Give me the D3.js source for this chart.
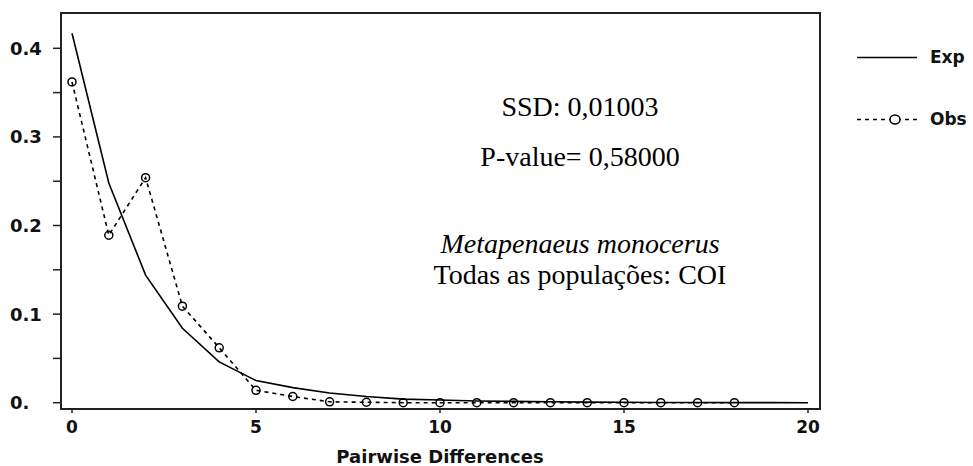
<!DOCTYPE html>
<html>
<head>
<meta charset="utf-8">
<script src="https://cdn.jsdelivr.net/npm/d3@7"></script>
<style>
  body { margin: 0; background: #fff; }
  svg { display: block; }
  .lab { font-family: "DejaVu Sans", sans-serif; font-weight: bold; fill: #111; }
  .note { font-family: "Liberation Serif", "Times New Roman", serif; fill: #000; }
</style>
</head>
<body>
<svg id="chart"></svg>
<script>

// DATA

const diffs = d3.range(0, 21);

const expValues = [
  0.417, 0.248, 0.144, 0.084, 0.046, 0.025, 0.017, 0.011, 0.007, 0.004,
  0.003, 0.002, 0.0015, 0.001, 0.0007, 0.0005, 0.0003, 0.0002, 0.0001, 0.0001, 0
];

const obsDiffs = d3.range(0, 19);
const obsValues = [
  0.362, 0.189, 0.254, 0.109, 0.062, 0.014, 0.007, 0.001, 0.0005, 0,
  0, 0, 0, 0, 0, 0, 0, 0, 0
];

const yTicks = [0, 0.1, 0.2, 0.3, 0.4];
const yTickLabels = ["0.", "0.1", "0.2", "0.3", "0.4"];
const yMinorTicks = [0.05, 0.15, 0.25, 0.35];
const xTicks = [0, 5, 10, 15, 20];

const notes = [
  { text: "SSD: 0,01003", italic: false },
  { text: "P-value= 0,58000", italic: false },
  { text: "Metapenaeus monocerus", italic: true },
  { text: "Todas as populações: COI", italic: false }
];
const noteBaselines = [116, 166, 253, 284];

// SETUP

const width = 973;
const height = 466;

const svg = d3.select("#chart")
  .attr("width", width)
  .attr("height", height);

const frame = { left: 61, top: 13, right: 820, bottom: 409 };

const x = d3.scaleLinear()
  .domain([0, 20])
  .range([72, 808]);

const y = d3.scaleLinear()
  .domain([0, 0.4])
  .range([402.7, 48.3]);

// FRAME

svg.append("rect")
  .attr("x", frame.left)
  .attr("y", frame.top)
  .attr("width", frame.right - frame.left)
  .attr("height", frame.bottom - frame.top)
  .attr("fill", "none")
  .attr("stroke", "#222")
  .attr("stroke-width", 2);

// Y AXIS

svg.append("g")
  .selectAll("line")
  .data(yTicks.concat(yMinorTicks))
  .enter()
  .append("line")
  .attr("x1", frame.left - 8)
  .attr("x2", frame.left)
  .attr("y1", d => y(d))
  .attr("y2", d => y(d))
  .attr("stroke", "#222")
  .attr("stroke-width", 1.5);

svg.append("g")
  .selectAll("text")
  .data(yTicks)
  .enter()
  .append("text")
  .attr("class", "lab")
  .attr("x", 10)
  .attr("y", d => y(d))
  .attr("dy", "0.36em")
  .attr("font-size", "18px")
  .text((d, i) => yTickLabels[i]);

// X AXIS

svg.append("g")
  .selectAll("line")
  .data(xTicks)
  .enter()
  .append("line")
  .attr("x1", d => x(d))
  .attr("x2", d => x(d))
  .attr("y1", frame.bottom)
  .attr("y2", frame.bottom + 4)
  .attr("stroke", "#222")
  .attr("stroke-width", 1.5);

svg.append("g")
  .selectAll("text")
  .data(xTicks)
  .enter()
  .append("text")
  .attr("class", "lab")
  .attr("x", d => x(d))
  .attr("y", 433)
  .attr("text-anchor", "middle")
  .attr("font-size", "17px")
  .text(d => d);

svg.append("text")
  .attr("class", "lab")
  .attr("x", 440)
  .attr("y", 463)
  .attr("text-anchor", "middle")
  .attr("font-size", "18px")
  .text("Pairwise Differences");

// LINES

const line = d3.line()
  .x(d => x(d[0]))
  .y(d => y(d[1]));

svg.append("path")
  .datum(obsDiffs.map((d, i) => [d, obsValues[i]]))
  .attr("d", line)
  .attr("fill", "none")
  .attr("stroke", "#000")
  .attr("stroke-width", 1.6)
  .attr("stroke-dasharray", "4,4");

svg.append("g")
  .selectAll("circle")
  .data(obsDiffs)
  .enter()
  .append("circle")
  .attr("cx", d => x(d))
  .attr("cy", (d, i) => y(obsValues[i]))
  .attr("r", 4)
  .attr("fill", "none")
  .attr("stroke", "#000")
  .attr("stroke-width", 1.5);

svg.append("path")
  .datum(diffs.map((d, i) => [d, expValues[i]]))
  .attr("d", line)
  .attr("fill", "none")
  .attr("stroke", "#000")
  .attr("stroke-width", 1.6);

// LEGEND

svg.append("line")
  .attr("x1", 857).attr("x2", 917)
  .attr("y1", 57.5).attr("y2", 57.5)
  .attr("stroke", "#000")
  .attr("stroke-width", 1.6);

svg.append("text")
  .attr("class", "lab")
  .attr("x", 930)
  .attr("y", 63)
  .attr("font-size", "17px")
  .text("Exp");

svg.append("line")
  .attr("x1", 857).attr("x2", 917)
  .attr("y1", 119.5).attr("y2", 119.5)
  .attr("stroke", "#000")
  .attr("stroke-width", 1.6)
  .attr("stroke-dasharray", "4,4");

svg.append("ellipse")
  .attr("cx", 895)
  .attr("cy", 119.5)
  .attr("rx", 5)
  .attr("ry", 4.5)
  .attr("fill", "#fff")
  .attr("stroke", "#000")
  .attr("stroke-width", 1.5);

svg.append("text")
  .attr("class", "lab")
  .attr("x", 930)
  .attr("y", 125)
  .attr("font-size", "17px")
  .text("Obs");

// NOTES

svg.append("g")
  .selectAll("text")
  .data(notes)
  .enter()
  .append("text")
  .attr("class", "note")
  .attr("x", 580)
  .attr("y", (d, i) => noteBaselines[i])
  .attr("text-anchor", "middle")
  .attr("font-size", "28px")
  .attr("font-style", d => d.italic ? "italic" : "normal")
  .text(d => d.text);

</script>
</body>
</html>
